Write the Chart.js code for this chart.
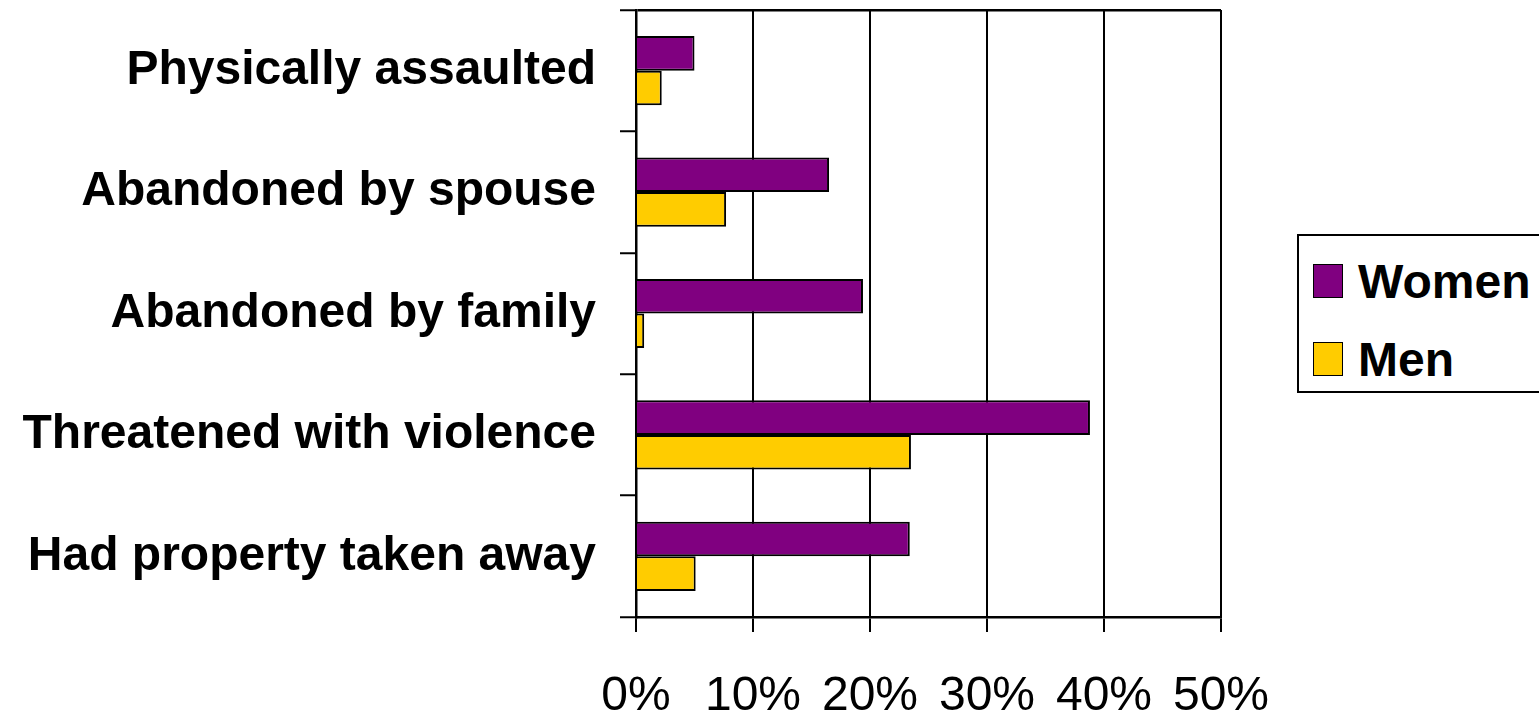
<!DOCTYPE html>
<html>
<head>
<meta charset="utf-8">
<script src="https://cdn.jsdelivr.net/npm/chart.js@4/dist/chart.umd.min.js"></script>
<style>
  html, body { margin: 0; padding: 0; background: #fff; overflow: hidden; }
  #wrap { position: relative; width: 1539px; height: 719px; }
  #legend {
    position: absolute; left: 1297px; top: 234px; width: 260px; height: 159px;
    border: 2px solid #000; box-sizing: border-box; background: #fff;
    font-family: "Liberation Sans", Arial, sans-serif; font-weight: bold; font-size: 48px;
  }
  .item { position: absolute; left: 14px; height: 40px; line-height: 40px; }
  .sw { position: absolute; left: 0; top: 2px; width: 28px; height: 32px; border: 1.5px solid #000; }
  .lbl { position: absolute; left: 45px; top: 0; white-space: nowrap; }
</style>
</head>
<body>
<div id="wrap">
  <canvas id="myChart" width="1539" height="719"></canvas>
  <div id="legend"></div>
</div>
<script>
// data
const categories = [
    'Physically assaulted',
    'Abandoned by spouse',
    'Abandoned by family',
    'Threatened with violence',
    'Had property taken away'
];
const women = [5.0, 16.5, 19.4, 38.8, 23.4];
const men = [2.2, 7.7, 0.7, 23.5, 5.1];
const xTickLabels = ['0%', '10%', '20%', '30%', '40%', '50%'];

const fontFamily = '"Liberation Sans", Arial, sans-serif';

const ctx = document.getElementById('myChart');
const myChart = new Chart(ctx, {
    type: 'bar',
    data: {
        labels: categories,
        datasets: [{
            label: 'Women',
            data: women,
            backgroundColor: '#800080',
            borderColor: '#000000',
            borderWidth: 2,
            barPercentage: 1,
            categoryPercentage: 0.57
        }, {
            label: 'Men',
            data: men,
            backgroundColor: '#FFCC00',
            borderColor: '#000000',
            borderWidth: 2,
            barPercentage: 1,
            categoryPercentage: 0.57
        }]
    },
    options: {
        indexAxis: 'y',
        responsive: false,
        animation: false,
        devicePixelRatio: 1,
        layout: {
            padding: { top: 10, right: 318, left: 0, bottom: 0 }
        },
        plugins: {
            legend: { display: false },
            tooltip: { enabled: false }
        },
        scales: {
            x: {
                position: 'bottom',
                min: 0,
                max: 50,
                ticks: {
                    stepSize: 10,
                    padding: 36,
                    color: '#000',
                    font: { family: fontFamily, size: 48 },
                    callback: function(value, index) {
                        return xTickLabels[index];
                    }
                },
                grid: {
                    color: '#000',
                    lineWidth: 2,
                    tickLength: 15,
                    tickColor: '#000'
                },
                border: { display: true, color: '#000', width: 2.5 },
                afterFit: function(scale) {
                    scale.height = 102;
                }
            },
            y: {
                ticks: {
                    padding: 24,
                    color: '#000',
                    font: { family: fontFamily, size: 48, weight: 'bold' }
                },
                grid: {
                    offset: true,
                    // only the top boundary runs across the plot
                    color: function(c) {
                        return c.index === 0 ? '#000' : 'rgba(0,0,0,0)';
                    },
                    lineWidth: 2.5,
                    tickLength: 16,
                    tickColor: '#000',
                    tickWidth: 2
                },
                border: { display: true, color: '#000', width: 2.5 },
                afterFit: function(scale) {
                    scale.width = 636;
                    scale.paddingTop = 0;
                    scale.paddingBottom = 0;
                }
            }
        }
    }
});

// legend box, built from the datasets
const legend = document.getElementById('legend');
myChart.data.datasets.forEach(function(ds, i) {
    const item = document.createElement('div');
    item.className = 'item';
    item.style.top = (26 + i * 78) + 'px';
    const sw = document.createElement('div');
    sw.className = 'sw';
    sw.style.background = ds.backgroundColor;
    const lbl = document.createElement('div');
    lbl.className = 'lbl';
    lbl.textContent = ds.label;
    item.appendChild(sw);
    item.appendChild(lbl);
    legend.appendChild(item);
});
</script>
</body>
</html>
